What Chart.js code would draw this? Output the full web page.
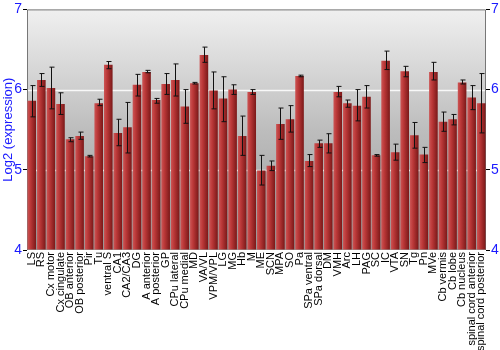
<!DOCTYPE html>
<html>
<head>
<meta charset="utf-8">
<script src="https://cdn.jsdelivr.net/npm/chart.js@4"></script>
<style>
  html, body { margin: 0; padding: 0; background: #ffffff; }
  #wrap { width: 500px; height: 350px; }
</style>
</head>
<body>
<div id="wrap"><canvas id="chart" width="500" height="350"></canvas></div>
<script>
// Tissue labels
const regions = ['LS', 'RS', 'Cx motor', 'Cx cingulate', 'OB anterior', 'OB posterior', 'Pir', 'Tu',
    'ventral S', 'CA1', 'CA2/CA3', 'DG', 'A anterior', 'A posterior', 'GP', 'CPu lateral', 'CPu medial',
    'MD', 'VA/VL', 'VPM/VPL', 'LG', 'MG', 'Hb', 'M', 'ME', 'SCN', 'MPA', 'SO', 'Pa', 'SPa ventral',
    'SPa dorsal', 'DM', 'VMH', 'Arc', 'LH', 'PAG', 'SC', 'IC', 'VTA', 'SN', 'Tg', 'Pn', 'MVe',
    'Cb vermis', 'Cb lobe', 'Cb nucleus', 'spinal cord anterior', 'spinal cord posterior'];

// Mean expression (log2)
const expression = [5.86, 6.12, 6.02, 5.82, 5.38, 5.42, 5.17, 5.83,
    6.31, 5.46, 5.53, 6.06, 6.22, 5.87, 6.07, 6.12, 5.79,
    6.08, 6.43, 5.99, 5.89, 6.00, 5.42, 5.97, 4.99, 5.05, 5.57, 5.63, 6.17, 5.11,
    5.33, 5.33, 5.97, 5.83, 5.80, 5.91, 5.18, 6.36, 5.22, 6.23, 5.43, 5.19, 6.22,
    5.60, 5.63, 6.09, 5.90, 5.83];

// Error bar ends
const errHigh = [6.05, 6.20, 6.28, 5.96, 5.40, 5.47, 5.18, 5.88,
    6.35, 5.63, 5.84, 6.19, 6.24, 5.89, 6.20, 6.32, 6.00,
    6.09, 6.53, 6.22, 6.16, 6.06, 5.67, 6.00, 5.18, 5.11, 5.77, 5.80, 6.18, 5.19,
    5.37, 5.45, 6.04, 5.87, 6.00, 6.05, 5.19, 6.48, 5.32, 6.29, 5.59, 5.28, 6.34,
    5.72, 5.69, 6.12, 6.05, 6.20];
const errLow = [5.66, 6.04, 5.76, 5.69, 5.35, 5.38, 5.16, 5.80,
    6.26, 5.30, 5.21, 5.92, 6.21, 5.83, 5.94, 5.92, 5.58,
    6.07, 6.34, 5.76, 5.60, 5.94, 5.18, 5.94, 4.81, 4.99, 5.38, 5.47, 6.16, 5.04,
    5.28, 5.21, 5.91, 5.78, 5.61, 5.77, 5.17, 6.25, 5.12, 6.16, 5.27, 5.09, 6.12,
    5.48, 5.56, 6.07, 5.75, 5.46];

const yTicks = [4, 5, 6, 7];

const BAR_PCT = 0.9;

// gray gradient background + frame
const backdrop = {
    id: 'backdrop',
    beforeDatasetsDraw(chart) {
        const { ctx, chartArea: a } = chart;
        const g = ctx.createLinearGradient(0, a.top, 0, a.bottom);
        g.addColorStop(0, '#f0f0f0');
        g.addColorStop(0.5, '#bdbdbd');
        g.addColorStop(1, '#999999');
        ctx.save();
        ctx.fillStyle = g;
        ctx.fillRect(a.left, a.top, a.right - a.left, a.bottom - a.top);
        // white grid lines at 5 and 6
        const y = chart.scales.y;
        ctx.strokeStyle = 'rgba(255,255,255,0.85)';
        ctx.lineWidth = 1.5;
        [5, 6].forEach(v => {
            const py = Math.round(y.getPixelForValue(v)) + 0.5;
            ctx.beginPath();
            ctx.moveTo(a.left, py);
            ctx.lineTo(a.right, py);
            ctx.stroke();
        });
        ctx.strokeStyle = '#777777';
        ctx.lineWidth = 1;
        ctx.beginPath();
        ctx.moveTo(a.left + 0.5, a.bottom);
        ctx.lineTo(a.left + 0.5, a.top + 0.5);
        ctx.lineTo(a.right - 0.5, a.top + 0.5);
        ctx.lineTo(a.right - 0.5, a.bottom);
        ctx.stroke();
        ctx.restore();
    }
};

// error bars from the errLow / errHigh arrays
const errorBars = {
    id: 'errorBars',
    afterDatasetsDraw(chart) {
        const { ctx } = chart;
        const y = chart.scales.y;
        const meta = chart.getDatasetMeta(0);
        ctx.save();
        ctx.strokeStyle = '#111111';
        ctx.lineWidth = 1;
        meta.data.forEach((bar, i) => {
            const x = Math.round(bar.x) + 0.5;
            const top = y.getPixelForValue(errHigh[i]);
            const bot = y.getPixelForValue(errLow[i]);
            ctx.beginPath();
            ctx.moveTo(x, top);
            ctx.lineTo(x, bot);
            ctx.moveTo(x - 2, top);
            ctx.lineTo(x + 3, top);
            ctx.moveTo(x - 2, bot);
            ctx.lineTo(x + 3, bot);
            ctx.stroke();
        });
        ctx.restore();
    }
};

function barFill(context) {
    const chart = context.chart;
    const xs = chart.scales.x;
    if (!xs || !chart.chartArea) return '#b03030';
    const cx = xs.getPixelForValue(context.dataIndex);
    const w = (xs.width / regions.length) * BAR_PCT;
    const g = chart.ctx.createLinearGradient(cx - w / 2, 0, cx + w / 2, 0);
    g.addColorStop(0, '#cc5555');
    g.addColorStop(0.35, '#bb3838');
    g.addColorStop(1, '#7a1818');
    return g;
}

new Chart(document.getElementById('chart'), {
    type: 'bar',
    data: {
        labels: regions,
        datasets: [{
            data: expression,
            base: 4,
            backgroundColor: barFill,
            borderWidth: 0,
            barPercentage: BAR_PCT,
            categoryPercentage: 1
        }]
    },
    options: {
        responsive: false,
        animation: false,
        devicePixelRatio: 1,
        layout: { padding: { top: 9, right: 0, left: 0, bottom: 0 } },
        plugins: { legend: { display: false }, tooltip: { enabled: false } },
        scales: {
            x: {
                grid: { display: false, drawTicks: false },
                border: { display: false },
                ticks: {
                    color: '#000000',
                    font: { family: 'Liberation Sans, Arial', size: 11 },
                    maxRotation: 90,
                    minRotation: 90,
                    autoSkip: false,
                    padding: 2
                },
                afterFit(s) { s.height = 100; }
            },
            y: {
                position: 'left',
                min: 4,
                max: 7,
                afterBuildTicks(s) { s.ticks = yTicks.map(v => ({ value: v })); },
                grid: { drawOnChartArea: false, tickLength: 4, color: '#000000' },
                border: { display: false },
                ticks: {
                    color: '#1a1aff',
                    font: { family: 'Liberation Sans, Arial', size: 14 },
                    padding: 1
                },
                title: {
                    display: true,
                    text: 'Log2 (expression)',
                    color: '#1a1aff',
                    font: { family: 'Liberation Sans, Arial', size: 13 },
                    padding: 1
                },
                afterFit(s) { s.width = 27; }
            },
            y2: {
                position: 'right',
                min: 4,
                max: 7,
                afterBuildTicks(s) { s.ticks = yTicks.map(v => ({ value: v })); },
                grid: { drawOnChartArea: false, tickLength: 4, color: '#000000' },
                border: { display: false },
                ticks: {
                    color: '#1a1aff',
                    font: { family: 'Liberation Sans, Arial', size: 14 },
                    padding: 1
                },
                afterFit(s) { s.width = 14; }
            }
        }
    },
    plugins: [backdrop, errorBars]
});
</script>
</body>
</html>
